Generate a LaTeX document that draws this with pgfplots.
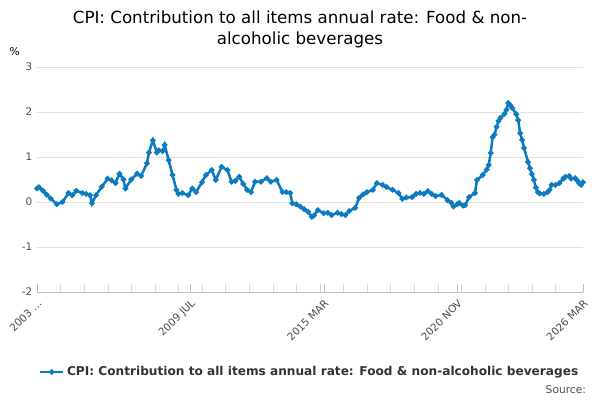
\documentclass[border=0pt]{standalone}
\usepackage{pgfplots}
\pgfplotsset{compat=1.18}
\usepackage{fontspec}
\setmainfont{DejaVu Sans}
\definecolor{ons}{HTML}{0C7BC0}
\begin{document}
\begin{tikzpicture}[x=1pt,y=1pt]
\useasboundingbox (0,0) rectangle (450,300);
\node[font=\fontsize{12.5}{16}\selectfont, align=center] at (225,278) {CPI: Contribution to all items annual rate: Food \& non-\\alcoholic beverages};
\node[font=\fontsize{8}{9}\selectfont] at (11,261) {\%};
\node[font=\fontsize{8}{9}\selectfont, anchor=east, text=black!70] at (443,7.5) {Source:};
\begin{axis}[
  at={(27.75pt,81pt)}, anchor=south west,
  scale only axis, width=409.5pt, height=168.75pt,
  xmin=0, xmax=278, ymin=-2, ymax=3,
  axis line style={draw=none},
  axis x line*=bottom,
  x axis line style={draw=black!25},
  ytick={-2,-1,0,1,2,3},
  ymajorgrids, grid style={black!12},
  xtick={0,78,146,214,278},
  xticklabels={2003 \dots, 2009 JUL, 2015 MAR, 2020 NOV, 2026 MAR},
  x tick label style={rotate=45, anchor=north east, font=\fontsize{7.8}{9}\selectfont, text=black!70},
  y tick label style={font=\fontsize{7.8}{9}\selectfont, text=black!70},
  /pgf/number format/assume math mode=true,
  major x tick style={draw=black!25}, major tick length=6pt,
  ytick style={draw=none},
  minor xtick={12,24,36,48,60,72,84,96,108,120,132,144,156,168,180,192,204,216,228,240,252,264},
  minor x tick style={draw=black!15}, minor tick length=6pt,
  legend style={at={(0.5,-0.356)}, anchor=center, draw=none, font=\bfseries\fontsize{9.1}{11}\selectfont, text=black!80},
  legend cell align=left,
]
\addplot[color=ons, line width=1.9pt, mark=*, mark size=1pt] coordinates {
(0,0.30)(1,0.33)(3,0.25)(5,0.16)(7,0.08)(10,-0.05)(13,0.00)(16,0.20)(18,0.15)(20,0.25)(23,0.20)(25,0.18)(27,0.15)(28,-0.03)(30,0.15)(33,0.34)(36,0.52)(38,0.48)(40,0.42)(42,0.63)(44,0.50)(45,0.30)(48,0.50)(51,0.63)(53,0.58)(56,0.86)(57,1.10)(59,1.37)(61,1.10)(62,1.15)(64,1.13)(65,1.27)(67,0.93)(69,0.60)(71,0.27)(72,0.18)(74,0.20)(77,0.15)(79,0.30)(81,0.22)(84,0.44)(86,0.60)(89,0.71)(91,0.49)(94,0.78)(97,0.71)(99,0.45)(101,0.47)(103,0.56)(105,0.40)(107,0.27)(109,0.22)(111,0.45)(114,0.45)(117,0.53)(119,0.45)(122,0.49)(125,0.22)(127,0.22)(129,0.20)(130,-0.03)(132,-0.05)(134,-0.10)(136,-0.16)(138,-0.22)(140,-0.33)(141,-0.30)(143,-0.18)(146,-0.25)(148,-0.24)(150,-0.29)(153,-0.24)(155,-0.27)(157,-0.29)(159,-0.20)(162,-0.13)(164,0.09)(166,0.17)(168,0.22)(171,0.27)(173,0.42)(176,0.38)(178,0.33)(181,0.27)(184,0.20)(186,0.07)(188,0.10)(191,0.11)(193,0.18)(195,0.20)(197,0.18)(199,0.24)(201,0.18)(203,0.13)(206,0.16)(209,0.04)(211,-0.02)(212,-0.10)(214,-0.05)(215,-0.02)(217,-0.08)(218,-0.07)(220,0.11)(223,0.20)(224,0.49)(227,0.60)(229,0.72)(230,0.82)(231,1.09)(232,1.44)(233,1.50)(234,1.67)(235,1.80)(236,1.87)(238,1.96)(239,2.05)(240,2.20)(241,2.15)(242,2.09)(244,1.95)(245,1.82)(246,1.53)(247,1.38)(248,1.20)(250,0.89)(251,0.75)(252,0.62)(253,0.49)(254,0.32)(255,0.22)(256,0.19)(258,0.18)(260,0.22)(261,0.27)(262,0.38)(264,0.38)(266,0.42)(268,0.52)(269,0.56)(271,0.58)(272,0.52)(274,0.53)(275,0.48)(276,0.42)(277,0.38)(278,0.44)
};
\addlegendentry{CPI: Contribution to all items annual rate: Food \& non-alcoholic beverages}
\end{axis}
\end{tikzpicture}
\end{document}
